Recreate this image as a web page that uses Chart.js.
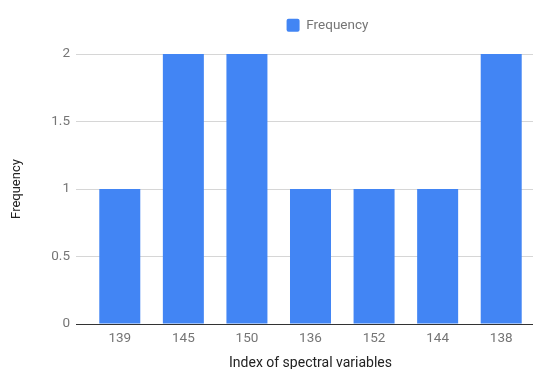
<!DOCTYPE html>
<html>
<head>
<meta charset="utf-8">
<script src="https://cdn.jsdelivr.net/npm/chart.js@4/dist/chart.umd.min.js"></script>
<style>
  html, body { margin: 0; padding: 0; background: #fff; }
  #wrap { width: 536px; height: 369px; }
</style>
</head>
<body>
<div id="wrap"><canvas id="c" width="536" height="369"></canvas></div>
<script>
// Spectral variable indices and how often each was selected
const categories = ['139', '145', '150', '136', '152', '144', '138'];
const frequency = [1, 2, 2, 1, 1, 1, 2];
const yTicks = [0, 0.5, 1, 1.5, 2];

const seriesName = 'Frequency';
const xTitle = 'Index of spectral variables';
const yTitle = 'Frequency';

const FONT = 'Roboto, Arial, sans-serif';
const BLUE = '#4285F4';

// Nudges the legend sideways/up after layout so it sits over the plot
const legendShift = {
  id: 'legendShift',
  afterLayout(chart) {
    const lg = chart.legend;
    if (!lg) return;
    const dx = 61, dy = -12;
    lg.left += dx; lg.right += dx;
    lg.top += dy; lg.bottom += dy;
  }
};

new Chart(document.getElementById('c'), {
  type: 'bar',
  data: {
    labels: categories,
    datasets: [{
      label: seriesName,
      data: frequency,
      backgroundColor: BLUE,
      borderWidth: 0,
      barPercentage: 1,
      categoryPercentage: 0.645
    }]
  },
  options: {
    responsive: false,
    animation: false,
    devicePixelRatio: 1,
    layout: { padding: { left: 0, right: 3, top: 0, bottom: 0 } },
    plugins: {
      tooltip: { enabled: false },
      legend: {
        position: 'top',
        align: 'center',
        labels: {
          boxWidth: 13,
          boxHeight: 13,
          padding: 30.5,
          color: '#757575',
          font: { family: FONT, size: 13.5 },
          useBorderRadius: true,
          borderRadius: 2
        }
      }
    },
    scales: {
      x: {
        grid: { display: false, drawTicks: false },
        border: { display: false },
        ticks: { color: '#757575', font: { family: FONT, size: 13.5 }, padding: 7, maxRotation: 0 },
        title: {
          display: true,
          text: xTitle,
          color: '#222',
          font: { family: FONT, size: 14 },
          padding: { top: 0, bottom: -3 }
        },
        afterFit(scale) { scale.height = 45; }
      },
      y: {
        min: 0,
        max: 2,
        afterBuildTicks(scale) { scale.ticks = yTicks.map(v => ({ value: v })); },
        grid: {
          color: ctx => (ctx.tick && ctx.tick.value === 0 ? '#333333' : '#d6d6d6'),
          lineWidth: 1,
          drawTicks: true,
          tickLength: 12
        },
        border: { display: false },
        ticks: {
          color: '#757575',
          font: { family: FONT, size: 13.5 },
          padding: 6,
          callback: v => String(v)
        },
        title: {
          display: true,
          text: yTitle,
          color: '#222',
          font: { family: FONT, size: 13 },
          padding: { top: 9, bottom: 0 }
        },
        afterFit(scale) { scale.width = 88; }
      }
    }
  },
  plugins: [legendShift]
});
</script>
</body>
</html>
